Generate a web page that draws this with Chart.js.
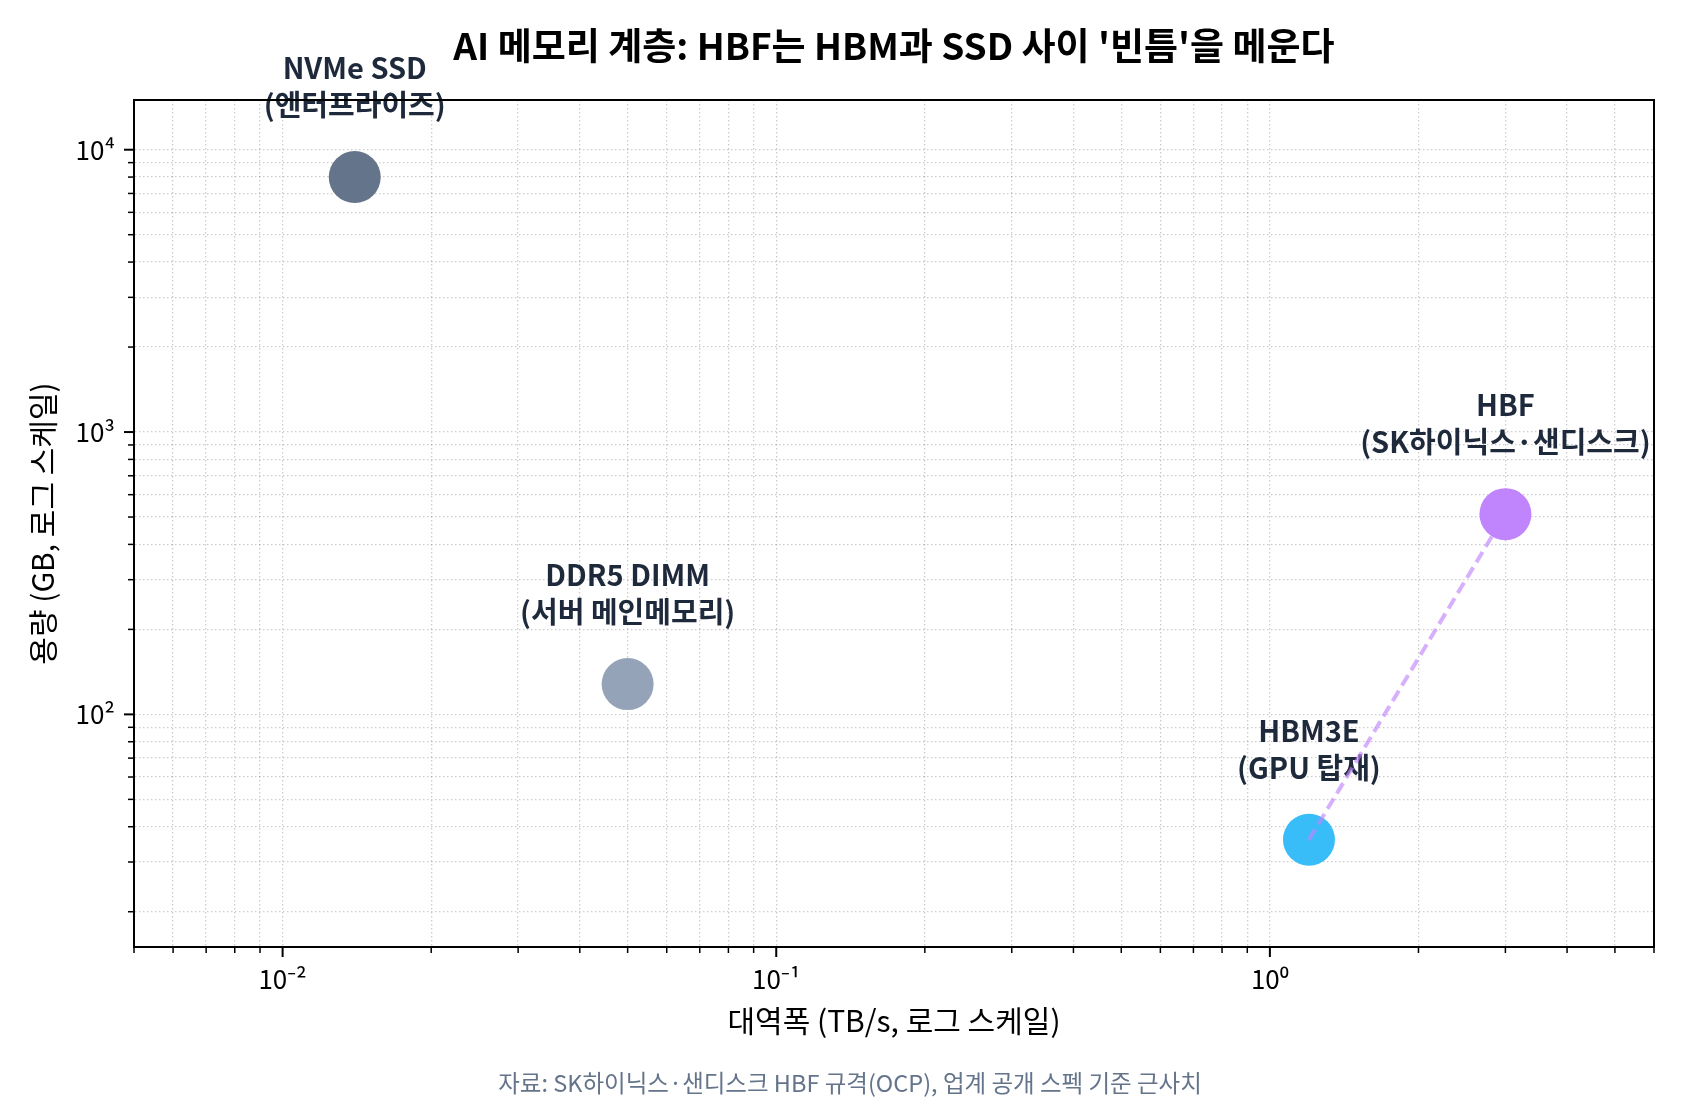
<!DOCTYPE html>
<html>
<head>
<meta charset="utf-8">
<script src="https://cdn.jsdelivr.net/npm/chart.js@4.4.1/dist/chart.umd.min.js"></script>
<style>
  html, body { margin: 0; padding: 0; background: #ffffff; }
  #memChart { display: block; }
</style>
</head>
<body>
<canvas id="memChart" width="1700" height="1100"></canvas>
<script>
// Memory tiers: bandwidth (TB/s) vs capacity (GB), both log scale
let deviceNames = [ 'HBM3E', 'HBF', 'DDR5 DIMM', 'NVMe SSD' ];
let deviceNotes = [ '(GPU 탑재)', '(SK하이닉스·샌디스크)', '(서버 메인메모리)', '(엔터프라이즈)' ];
let bandwidthTBs = [ 1.2, 3.0, 0.05, 0.014 ];
let capacityGB = [ 36, 512, 128, 8000 ];

// HBM3E -> HBF connector
let linkFrom = 0;
let linkTo = 1;

// Axis ticks
let xMajorTicks = [ 0.01, 0.1, 1 ];
let xTickLabels = [ '10⁻²', '10⁻¹', '10⁰' ];
let yMajorTicks = [ 100, 1000, 10000 ];
let yTickLabels = [ '10²', '10³', '10⁴' ];

let titleText = "AI 메모리 계층: HBF는 HBM과 SSD 사이 '빈틈'을 메운다";
let xTitle = '대역폭 (TB/s, 로그 스케일)';
let yTitle = '용량 (GB, 로그 스케일)';
let sourceText = '자료: SK하이닉스·샌디스크 HBF 규격(OCP), 업계 공개 스펙 기준 근사치';

let FONT = "'Noto Sans CJK KR', 'Noto Sans', sans-serif";

// log ticks 1..9 x 10^e inside [min, max]
function logTicks ( min, max )
{
    let out = [];
    for ( let e = Math.floor( Math.log10( min ) ); e <= Math.ceil( Math.log10( max ) ); e++ )
    {
        for ( let m = 1; m <= 9; m++ )
        {
            let v = parseFloat( ( m * Math.pow( 10, e ) ).toPrecision( 6 ) );
            if ( v >= min * 0.9999 && v <= max * 1.0001 ) out.push( { value: v, major: m === 1 } );
        }
    }
    return out;
}

function labelFor ( majors, labels, value )
{
    for ( let i = 0; i < majors.length; i++ )
    {
        if ( Math.abs( value - majors[ i ] ) / majors[ i ] < 1e-6 ) return labels[ i ];
    }
    return '';
}

let points = bandwidthTBs.map( function ( bw, i ) { return { x: bw, y: capacityGB[ i ] }; } );

// frame, tick marks, title, point labels, source note
let decorations = {
    id: 'decorations',
    beforeDatasetsDraw: function ( chart )
    {
        let ctx = chart.ctx;
        let meta = chart.getDatasetMeta( 1 );
        ctx.save();
        ctx.fillStyle = '#1e293b';
        ctx.textAlign = 'center';
        ctx.textBaseline = 'middle';
        ctx.font = 'bold 29px ' + FONT;
        meta.data.forEach( function ( pt, i )
        {
            ctx.fillText( deviceNames[ i ], pt.x, pt.y - 109 );
            ctx.fillText( deviceNotes[ i ], pt.x, pt.y - 72 );
        } );
        ctx.restore();
    },
    afterDraw: function ( chart )
    {
        let ctx = chart.ctx;
        let a = chart.chartArea;
        ctx.save();

        // tick marks
        ctx.strokeStyle = '#000000';
        chart.scales.x.ticks.forEach( function ( t )
        {
            let px = chart.scales.x.getPixelForValue( t.value );
            ctx.lineWidth = t.major ? 2 : 1.5;
            ctx.beginPath();
            ctx.moveTo( px, a.bottom );
            ctx.lineTo( px, a.bottom + ( t.major ? 10 : 6 ) );
            ctx.stroke();
        } );
        chart.scales.y.ticks.forEach( function ( t )
        {
            let py = chart.scales.y.getPixelForValue( t.value );
            ctx.lineWidth = t.major ? 2 : 1.5;
            ctx.beginPath();
            ctx.moveTo( a.left, py );
            ctx.lineTo( a.left - ( t.major ? 10 : 6 ), py );
            ctx.stroke();
        } );

        // frame
        ctx.lineWidth = 2;
        ctx.strokeRect( a.left, a.top, a.right - a.left, a.bottom - a.top );

        // title
        ctx.fillStyle = '#000000';
        ctx.textAlign = 'center';
        ctx.textBaseline = 'middle';
        ctx.font = 'bold 37px ' + FONT;
        ctx.fillText( titleText, ( a.left + a.right ) / 2, 46 );

        // source note
        ctx.fillStyle = '#64748b';
        ctx.font = '23.5px ' + FONT;
        ctx.fillText( sourceText, chart.width / 2, 1083 );
        ctx.restore();
    }
};

let gridStyle = {
    color: 'rgba(0, 0, 0, 0.2)',
    lineWidth: 1.3,
    drawTicks: false
};

let ctx = document.getElementById( 'memChart' ).getContext( '2d' );
let chart = new Chart( ctx, {
    type: 'scatter',
    data: {
        datasets: [ {
            type: 'line',
            data: [ points[ linkFrom ], points[ linkTo ] ],
            borderColor: 'rgba(192, 132, 252, 0.65)',
            borderWidth: 4,
            borderDash: [ 12, 6 ],
            pointRadius: 0,
            fill: false,
            order: 0
        }, {
            data: points,
            backgroundColor: [ '#38bdf8', '#c084fc', '#94a3b8', '#64748b' ],
            borderWidth: 0,
            pointRadius: 26,
            pointHoverRadius: 26,
            order: 1
        } ]
    },
    options: {
        responsive: false,
        animation: false,
        devicePixelRatio: 1,
        layout: {
            padding: { left: 0, right: 46, top: 100, bottom: 40 }
        },
        plugins: {
            legend: { display: false },
            tooltip: { enabled: false }
        },
        scales: {
            x: {
                type: 'logarithmic',
                min: 0.005,
                max: 6,
                afterBuildTicks: function ( scale ) { scale.ticks = logTicks( scale.min, scale.max ); },
                afterFit: function ( scale ) { scale.height = 113; },
                grid: gridStyle,
                border: { display: true, color: '#000000', width: 2, dash: [ 1.5, 2.5 ] },
                ticks: {
                    autoSkip: false,
                    maxRotation: 0,
                    padding: 17,
                    color: '#000000',
                    font: { family: FONT, size: 26 },
                    callback: function ( value ) { return labelFor( xMajorTicks, xTickLabels, value ); }
                },
                title: {
                    display: true,
                    text: xTitle,
                    color: '#000000',
                    font: { family: FONT, size: 30 },
                    padding: { top: 0, bottom: 21 }
                }
            },
            y: {
                type: 'logarithmic',
                min: 15,
                max: 15000,
                afterBuildTicks: function ( scale ) { scale.ticks = logTicks( scale.min, scale.max ); },
                afterFit: function ( scale ) { scale.width = 134; },
                grid: gridStyle,
                border: { display: true, color: '#000000', width: 2, dash: [ 1.5, 2.5 ] },
                ticks: {
                    autoSkip: false,
                    padding: 19,
                    color: '#000000',
                    font: { family: FONT, size: 26 },
                    callback: function ( value ) { return labelFor( yMajorTicks, yTickLabels, value ); }
                },
                title: {
                    display: true,
                    text: yTitle,
                    color: '#000000',
                    font: { family: FONT, size: 30 },
                    padding: { top: 25, bottom: 0 }
                }
            }
        }
    },
    plugins: [ decorations ]
} );
</script>
</body>
</html>
